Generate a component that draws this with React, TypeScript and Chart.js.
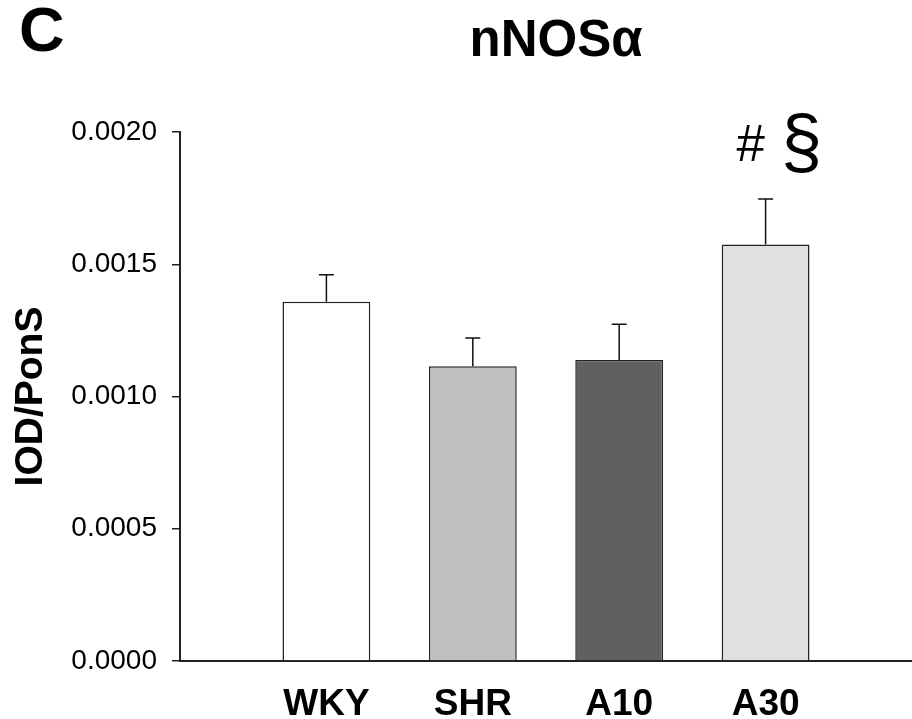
import React, { useEffect, useRef } from "react";
import { Chart, registerables } from "chart.js";

Chart.register(...registerables);

const categories = ["WKY", "SHR", "A10", "A30"];
const means = [0.001358, 0.001114, 0.001138, 0.001575];
const errors = [0.000102, 0.000107, 0.000135, 0.000172];
const barColors = ["#ffffff", "#c0c0c0", "#606060", "#e0e0e0"];
const yTicks = [0, 0.0005, 0.001, 0.0015, 0.002];
const chartTitle = "nNOSα";
const panelLetter = "C";
const yTitle = "IOD/PonS";
const annotationHash = "#";
const annotationSection = "§";

const FONT = "'Liberation Sans', Arial, Helvetica, sans-serif";

const labels = ["", ...categories, ""];
const dataValues = [null, ...means, null];
const errorsByIndex = [null, ...errors, null];
const colorsByIndex = ["#fff", ...barColors, "#fff"];

const errorBarPlugin = {
  id: "errorBars",
  afterDatasetsDraw(chart: any) {
    const ctx = chart.ctx;
    const meta = chart.getDatasetMeta(0);
    const yScale = chart.scales.y;
    ctx.save();
    ctx.strokeStyle = "#111";
    ctx.lineWidth = 1.5;
    meta.data.forEach((bar: any, i: number) => {
      const v = chart.data.datasets[0].data[i];
      if (v == null) return;
      const e = errorsByIndex[i];
      if (e == null) return;
      const yTop = yScale.getPixelForValue(v + e);
      const yBar = yScale.getPixelForValue(v);
      ctx.beginPath();
      ctx.moveTo(bar.x, yBar);
      ctx.lineTo(bar.x, yTop);
      ctx.moveTo(bar.x - 7.5, yTop);
      ctx.lineTo(bar.x + 7.5, yTop);
      ctx.stroke();
    });
    ctx.restore();
  },
};

const textPlugin = {
  id: "texts",
  afterDraw(chart: any) {
    const ctx = chart.ctx;
    const area = chart.chartArea;
    ctx.save();
    ctx.fillStyle = "#000";
    ctx.font = `bold 63px ${FONT}`;
    ctx.textAlign = "left";
    ctx.textBaseline = "alphabetic";
    ctx.fillText(panelLetter, 19, 51);
    ctx.font = `bold 51px ${FONT}`;
    ctx.textAlign = "center";
    ctx.fillText(chartTitle, 556, 56);
    ctx.save();
    ctx.translate(42, (area.top + area.bottom) / 2);
    ctx.rotate(-Math.PI / 2);
    ctx.font = `bold 39px ${FONT}`;
    ctx.textAlign = "center";
    ctx.textBaseline = "alphabetic";
    ctx.fillText(yTitle, 0, 0);
    ctx.restore();
    const meta = chart.getDatasetMeta(0);
    const bar = meta.data[4];
    ctx.textAlign = "center";
    ctx.textBaseline = "alphabetic";
    ctx.font = `51px ${FONT}`;
    ctx.fillText(annotationHash, bar.x - 15, 161);
    ctx.font = `74px ${FONT}`;
    ctx.fillText(annotationSection, bar.x + 36, 167);
    ctx.restore();
  },
};

export default function App() {
  const ref = useRef<HTMLCanvasElement>(null);
  useEffect(() => {
    const chart = new Chart(ref.current!, {
      type: "bar",
      data: {
        labels,
        datasets: [
          {
            data: dataValues as any,
            backgroundColor: colorsByIndex,
            borderColor: "#222",
            borderWidth: 1.5,
            barPercentage: 0.6,
            categoryPercentage: 1,
          },
        ],
      },
      options: {
        responsive: false,
        animation: false,
        layout: { padding: { top: 132, right: 0, left: 0, bottom: 0 } },
        plugins: { legend: { display: false }, tooltip: { enabled: false }, title: { display: false } },
        scales: {
          x: {
            type: "category",
            offset: false,
            grid: { display: false },
            border: { display: true, color: "#222", width: 2 },
            ticks: {
              color: "#000",
              font: { family: FONT, size: 37, weight: "bold" },
              padding: 14,
              maxRotation: 0,
              autoSkip: false,
            },
            afterFit(scale: any) {
              scale.height = 58;
              scale.paddingLeft = 0;
              scale.paddingRight = 0;
            },
          },
          y: {
            min: 0,
            max: 0.002,
            afterBuildTicks(scale: any) {
              scale.ticks = yTicks.map((v) => ({ value: v }));
            },
            grid: {
              display: true,
              drawOnChartArea: false,
              drawTicks: true,
              tickLength: 8,
              color: "#222",
              lineWidth: 1.5,
            },
            border: { display: true, color: "#222", width: 2 },
            ticks: {
              color: "#000",
              font: { family: FONT, size: 28 },
              padding: 15,
              callback: (v: any) => Number(v).toFixed(4),
            },
            afterFit(scale: any) {
              scale.width = 180;
              scale.paddingTop = 0;
              scale.paddingBottom = 0;
            },
          },
        },
      },
      plugins: [errorBarPlugin, textPlugin],
    });
    return () => chart.destroy();
  }, []);
  return (
    <div style={{ position: "absolute", left: 0, top: 0, width: 912, height: 719, background: "#fff" }}>
      <canvas ref={ref} width={912} height={719} style={{ display: "block" }} />
    </div>
  );
}
